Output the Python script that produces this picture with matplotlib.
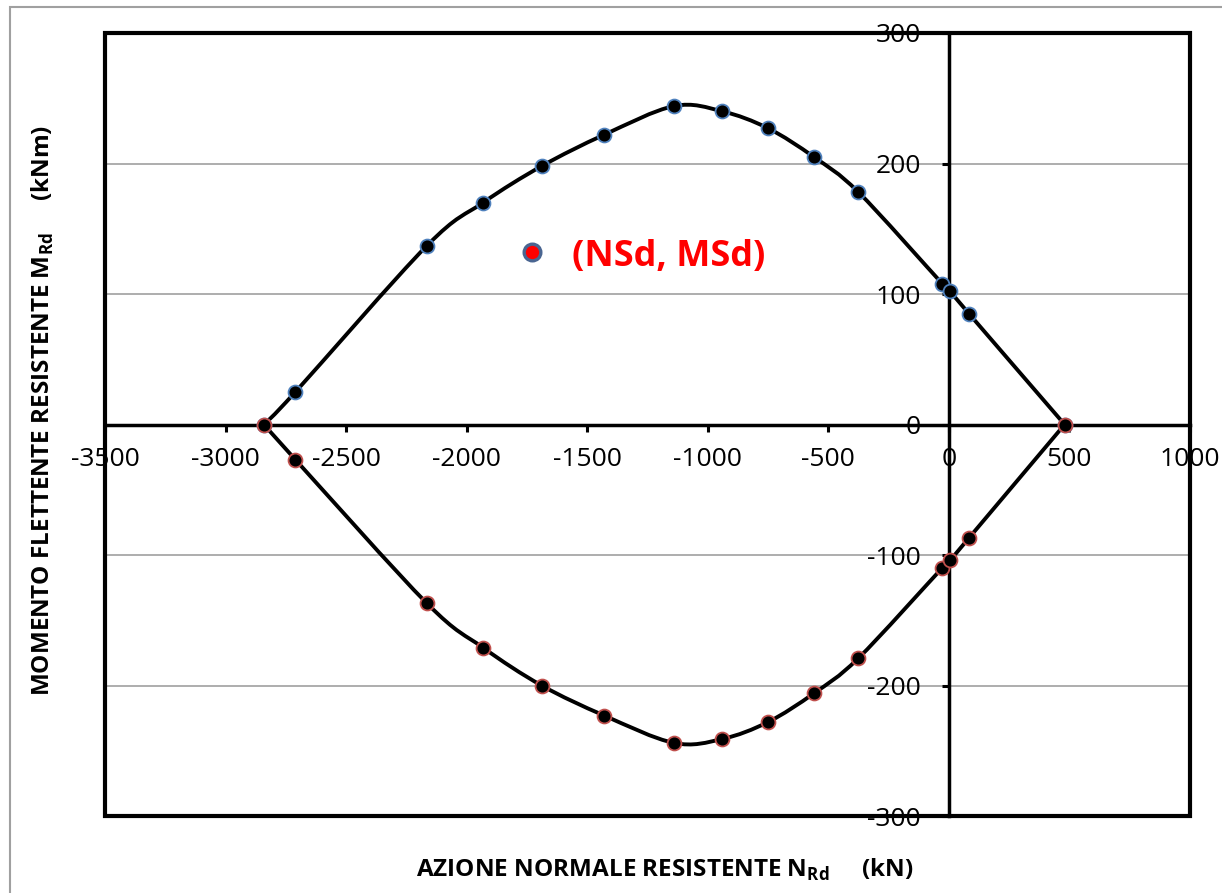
import numpy as np
import matplotlib.pyplot as plt
from matplotlib.path import Path
from matplotlib.patches import PathPatch, Rectangle

plt.rcParams['font.family'] = ['Open Sans', 'DejaVu Sans']
plt.rcParams['mathtext.fontset'] = 'custom'
plt.rcParams['mathtext.rm'] = 'Open Sans:bold'
plt.rcParams['mathtext.bf'] = 'Open Sans:bold'

# dominio di resistenza N-M
n_sup = [-2840, -2710, -2165, -1932, -1689, -1430, -1140, -940, -750, -560, -375, -28, 5, 83, 480]
m_sup = [0, 25, 137, 170, 198, 222, 244, 240, 227, 205, 178, 108, 102, 85, 0]
n_inf = [-2840, -2710, -2165, -1932, -1689, -1430, -1140, -940, -750, -560, -375, -28, 5, 83, 480]
m_inf = [0, -27, -137, -171, -200, -223, -244, -241, -228, -206, -179, -110, -104, -87, 0]

# punto di verifica
n_sd = [-1727]
m_sd = [132]

x_ticks = [-3500, -3000, -2500, -2000, -1500, -1000, -500, 0, 500, 1000]
y_ticks = [-300, -200, -100, 0, 100, 200, 300]


def smooth_path(xs, ys):
    # linea smussata tipo excel (bezier catmull-rom)
    p = np.column_stack([xs, ys]).astype(float)
    verts = [p[0]]
    codes = [Path.MOVETO]
    n = len(p)
    for i in range(n - 1):
        p0 = p[i - 1] if i > 0 else p[i]
        p1 = p[i]
        p2 = p[i + 1]
        p3 = p[i + 2] if i + 2 < n else p[i + 1]
        c1 = p1 + (p2 - p0) / 6.0
        c2 = p2 - (p3 - p1) / 6.0
        verts += [c1, c2, p2]
        codes += [Path.CURVE4] * 3
    return Path(verts, codes)


fig = plt.figure(figsize=(12.22, 8.93), dpi=100)
ax = fig.add_axes([105 / 1222, 1 - 816 / 893, 1085 / 1222, 783 / 893])

ax.set_xlim(-3500, 1000)
ax.set_ylim(-300, 300)

for yv in [-200, -100, 100, 200]:
    ax.axhline(yv, color='#a0a0a0', lw=1.2, zorder=0)

ax.add_patch(PathPatch(smooth_path(n_sup, m_sup), fill=False, ec='black', lw=2.8, zorder=3))
ax.add_patch(PathPatch(smooth_path(n_inf, m_inf), fill=False, ec='black', lw=2.8, zorder=3))

ax.plot(n_sup, m_sup, 'o', ms=10, mfc='black', mec='#4f81bd', mew=1.3, zorder=4)
ax.plot(n_inf, m_inf, 'o', ms=10, mfc='black', mec='#c0504d', mew=1.3, zorder=5)
ax.plot(n_sd, m_sd, 'o', ms=12, mfc='red', mec='#4a6591', mew=2.4, zorder=6)
ax.text(-1565, 128, '(NSd, MSd)', color='red', fontsize=26, fontweight='bold',
        ha='left', va='center', zorder=6)

ax.spines['left'].set_position(('data', 0))
ax.spines['bottom'].set_position(('data', 0))
ax.spines['top'].set_visible(False)
ax.spines['right'].set_visible(False)
for s in ['left', 'bottom']:
    ax.spines[s].set_linewidth(2.5)
    ax.spines[s].set_zorder(2)
ax.add_patch(Rectangle((0, 0), 1, 1, transform=ax.transAxes, fill=False,
                       ec='black', lw=3, clip_on=False, zorder=2))

ax.set_xticks(x_ticks)
ax.set_yticks(y_ticks)
ax.set_xticklabels([str(v) for v in x_ticks])
ax.set_yticklabels([str(v) for v in y_ticks])
ax.tick_params(axis='x', direction='out', length=5, width=2.2, pad=11, labelsize=19)
ax.tick_params(axis='y', direction='out', length=5, width=2.2, pad=15, labelsize=19)

fig.text(665 / 1222, 1 - 870 / 893,
         'AZIONE NORMALE RESISTENTE N$_{\\mathrm{Rd}}$     (kN)',
         fontsize=17.5, fontweight='bold', ha='center', va='center')
fig.text(43 / 1222, 1 - 410 / 893,
         'MOMENTO FLETTENTE RESISTENTE M$_{\\mathrm{Rd}}$     (kNm)',
         fontsize=17.5, fontweight='bold', ha='center', va='center', rotation=90)

# bordo del grafico
fig.add_artist(Rectangle((10 / 1222, -0.1), 1.2, 1 - 7 / 893 + 0.1, transform=fig.transFigure,
                         fill=False, ec='#a0a0a0', lw=1.5))

fig.savefig('out.png', dpi=100)
